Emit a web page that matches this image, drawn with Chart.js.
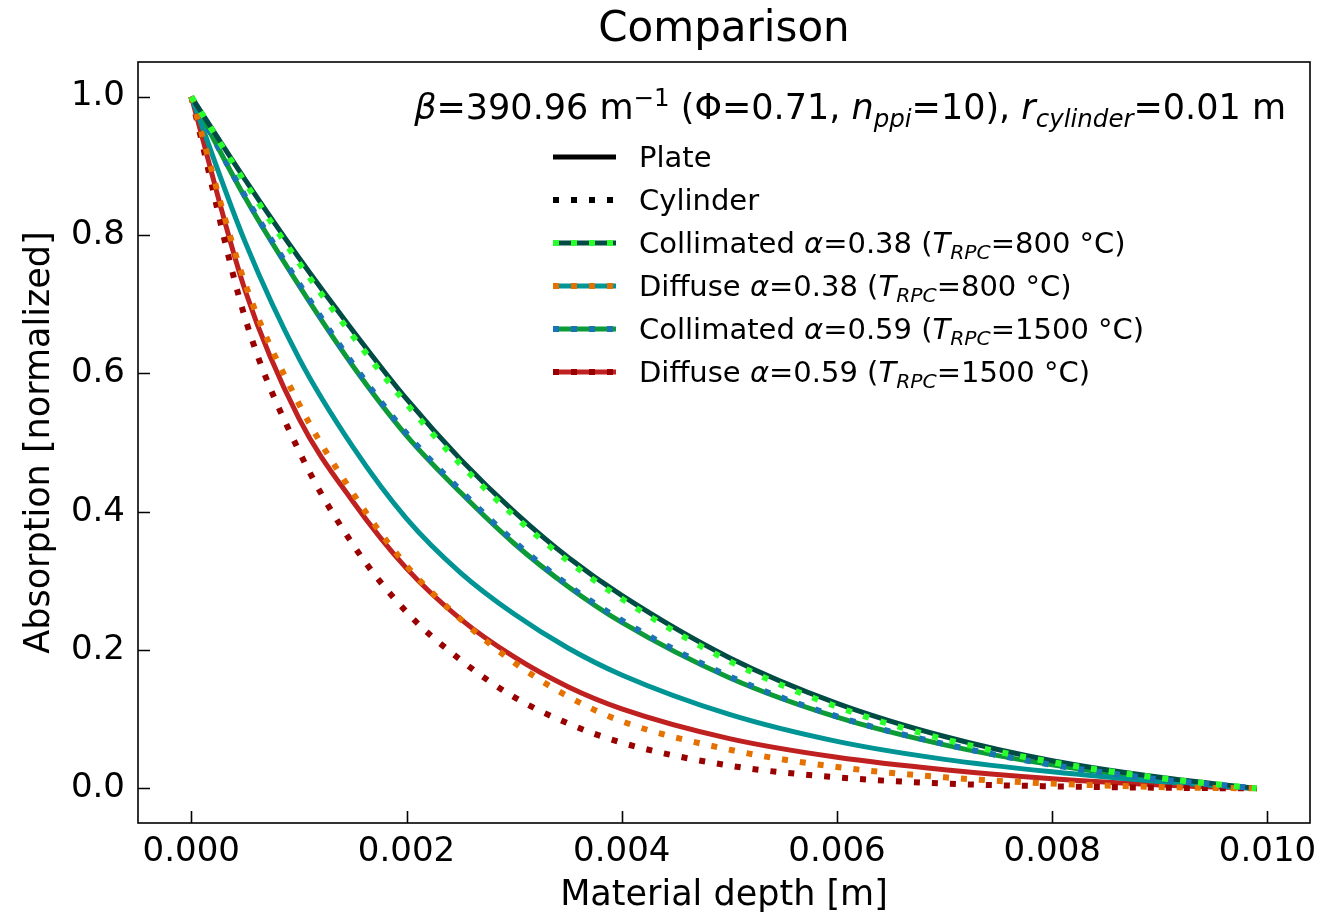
<!DOCTYPE html>
<html>
<head>
<meta charset="utf-8">
<title>Comparison</title>
<script src="https://cdn.jsdelivr.net/npm/chart.js@4.4.1/dist/chart.umd.min.js"></script>
<style>
  html, body { margin: 0; padding: 0; background: #fff; }
  #wrap { width: 1342px; height: 918px; }
</style>
</head>
<body>
<div id="wrap"><canvas id="chart" width="1342" height="918"></canvas></div>
<script>
// material depth [m], shared by every curve
const depth = [0, 0.0005, 0.001, 0.0015, 0.002, 0.0025, 0.003, 0.0035, 0.004, 0.005, 0.006, 0.007, 0.008, 0.009, 0.0099];

// normalized absorption
const plateColl038 = [1.0, 0.880, 0.767, 0.662, 0.563, 0.476, 0.400, 0.334, 0.279, 0.189, 0.123, 0.075, 0.040, 0.016, 0];
const cylColl038   = [1.0, 0.876, 0.760, 0.654, 0.556, 0.469, 0.394, 0.329, 0.274, 0.184, 0.118, 0.071, 0.038, 0.015, 0];
const plateDiff038 = [1.0, 0.790, 0.622, 0.494, 0.390, 0.312, 0.252, 0.203, 0.164, 0.107, 0.068, 0.042, 0.024, 0.010, 0];
const cylDiff038   = [1.0, 0.730, 0.556, 0.427, 0.322, 0.245, 0.182, 0.133, 0.097, 0.056, 0.031, 0.016, 0.007, 0.002, 0];
const plateColl059 = [1.0, 0.854, 0.727, 0.611, 0.510, 0.428, 0.354, 0.292, 0.240, 0.160, 0.103, 0.063, 0.034, 0.0135, 0];
const cylColl059   = [1.0, 0.856, 0.730, 0.614, 0.513, 0.431, 0.357, 0.294, 0.243, 0.162, 0.104, 0.064, 0.034, 0.013, 0];
const plateDiff059 = [1.0, 0.720, 0.535, 0.415, 0.318, 0.245, 0.190, 0.147, 0.115, 0.072, 0.045, 0.027, 0.014, 0.005, 0];
const cylDiff059   = [1.0, 0.680, 0.488, 0.353, 0.255, 0.186, 0.132, 0.094, 0.066, 0.033, 0.016, 0.007, 0.003, 0.001, 0];

const xTicks = [0, 0.002, 0.004, 0.006, 0.008, 0.010];
const yTicks = [0, 0.2, 0.4, 0.6, 0.8, 1.0];

const FONT = "'DejaVu Sans', sans-serif";
const DOT = [6, 12];

function series(values) {
    return values.map((v, i) => ({ x: depth[i], y: v }));
}

function plate(label, values, color) {
    return {
        label: label, data: series(values), borderColor: color, borderWidth: 5,
        pointRadius: 0, cubicInterpolationMode: 'monotone', order: 2
    };
}

function cylinder(label, values, color) {
    return {
        label: label, data: series(values), borderColor: color, borderWidth: 6,
        borderDash: DOT, borderCapStyle: 'butt',
        pointRadius: 0, cubicInterpolationMode: 'monotone', order: 1
    };
}

// text made of runs: plain, italic, sub- and superscript
function drawRuns(ctx, runs, x, y, size, align) {
    const fontOf = r => {
        const s = (r.sub || r.sup) ? size * 0.7 : size;
        return (r.it ? 'italic ' : '') + s + 'px ' + FONT;
    };
    let total = 0;
    runs.forEach(r => { ctx.font = fontOf(r); total += ctx.measureText(r.t).width; });
    let cx = align === 'right' ? x - total : (align === 'center' ? x - total / 2 : x);
    ctx.textBaseline = 'alphabetic';
    ctx.textAlign = 'left';
    runs.forEach(r => {
        ctx.font = fontOf(r);
        let dy = 0;
        if (r.sub) dy = size * 0.22;
        if (r.sup) dy = -size * 0.38;
        ctx.fillText(r.t, cx, y + dy);
        cx += ctx.measureText(r.t).width;
    });
}

const legendRows = [
    { solid: '#000000', dots: null, runs: [{ t: 'Plate' }] },
    { solid: null, dots: '#000000', runs: [{ t: 'Cylinder' }] },
    { solid: '#004c45', dots: '#2bff2b', runs: [{ t: 'Collimated ' }, { t: 'α', it: 1 }, { t: '=0.38 (' }, { t: 'T', it: 1 }, { t: 'RPC', it: 1, sub: 1 }, { t: '=800 °C)' }] },
    { solid: '#009494', dots: '#e57200', runs: [{ t: 'Diffuse ' }, { t: 'α', it: 1 }, { t: '=0.38 (' }, { t: 'T', it: 1 }, { t: 'RPC', it: 1, sub: 1 }, { t: '=800 °C)' }] },
    { solid: '#0d9a38', dots: '#1a73b5', runs: [{ t: 'Collimated ' }, { t: 'α', it: 1 }, { t: '=0.59 (' }, { t: 'T', it: 1 }, { t: 'RPC', it: 1, sub: 1 }, { t: '=1500 °C)' }] },
    { solid: '#bf2020', dots: '#990000', runs: [{ t: 'Diffuse ' }, { t: 'α', it: 1 }, { t: '=0.59 (' }, { t: 'T', it: 1 }, { t: 'RPC', it: 1, sub: 1 }, { t: '=1500 °C)' }] }
];

const noteRuns = [
    { t: 'β', it: 1 }, { t: '=390.96 m' }, { t: '−1', sup: 1 }, { t: ' (Φ=0.71, ' },
    { t: 'n', it: 1 }, { t: 'ppi', it: 1, sub: 1 }, { t: '=10), ' },
    { t: 'r', it: 1 }, { t: 'cylinder', it: 1, sub: 1 }, { t: '=0.01 m' }
];

const framePlugin = {
    id: 'frame',
    afterDraw(chart) {
        const ctx = chart.ctx;
        const a = chart.chartArea;
        const xs = chart.scales.x, ys = chart.scales.y;
        ctx.save();
        ctx.strokeStyle = '#000';
        ctx.lineWidth = 1.6;
        // inward ticks
        ctx.beginPath();
        xTicks.forEach(v => {
            const px = Math.round(xs.getPixelForValue(v)) + 0.5;
            ctx.moveTo(px, a.bottom); ctx.lineTo(px, a.bottom - 12);
        });
        yTicks.forEach(v => {
            const py = Math.round(ys.getPixelForValue(v)) + 0.5;
            ctx.moveTo(a.left, py); ctx.lineTo(a.left + 12, py);
        });
        ctx.stroke();
        ctx.strokeRect(a.left, a.top, a.right - a.left, a.bottom - a.top);

        // title, centred over the axes
        ctx.fillStyle = '#000';
        drawRuns(ctx, [{ t: 'Comparison' }], (a.left + a.right) / 2, 41, 42, 'center');

        // annotation
        drawRuns(ctx, noteRuns, 1286, 119, 35, 'right');

        // legend
        legendRows.forEach((row, i) => {
            const y = 157 + i * 43;
            const x0 = 553, x1 = 616;
            if (row.solid) {
                ctx.setLineDash([]);
                ctx.lineCap = 'butt';
                ctx.strokeStyle = row.solid;
                ctx.lineWidth = 5;
                ctx.beginPath(); ctx.moveTo(x0, y); ctx.lineTo(x1, y); ctx.stroke();
            }
            if (row.dots) {
                ctx.setLineDash(DOT);
                ctx.lineCap = 'butt';
                ctx.strokeStyle = row.dots;
                ctx.lineWidth = 6;
                ctx.beginPath(); ctx.moveTo(x0, y); ctx.lineTo(x1, y); ctx.stroke();
            }
            ctx.setLineDash([]);
            ctx.fillStyle = '#000';
            drawRuns(ctx, row.runs, 639, y + 10, 29, 'left');
        });
        ctx.restore();
    }
};

new Chart(document.getElementById('chart'), {
    type: 'line',
    data: {
        datasets: [
            plate('Plate coll 0.38', plateColl038, '#004c45'),
            cylinder('Cyl coll 0.38', cylColl038, '#2bff2b'),
            plate('Plate diff 0.38', plateDiff038, '#009494'),
            cylinder('Cyl diff 0.38', cylDiff038, '#e57200'),
            plate('Plate coll 0.59', plateColl059, '#0d9a38'),
            cylinder('Cyl coll 0.59', cylColl059, '#1a73b5'),
            plate('Plate diff 0.59', plateDiff059, '#bf2020'),
            cylinder('Cyl diff 0.59', cylDiff059, '#990000')
        ]
    },
    options: {
        responsive: false,
        animation: false,
        devicePixelRatio: 1,
        layout: { padding: { left: 0, right: 32, top: 62, bottom: 0 } },
        plugins: {
            legend: { display: false },
            tooltip: { enabled: false },
            title: { display: false }
        },
        scales: {
            x: {
                type: 'linear', min: -0.000495, max: 0.010395,
                afterBuildTicks: s => { s.ticks = xTicks.map(v => ({ value: v })); },
                afterFit: s => { s.height = 95; },
                ticks: {
                    callback: v => v.toFixed(3), color: '#000', padding: 9,
                    font: { family: FONT, size: 34 }, maxRotation: 0, autoSkip: false
                },
                grid: { display: false, drawTicks: false },
                border: { display: false },
                title: {
                    display: true, text: 'Material depth [m]', color: '#000',
                    font: { family: FONT, size: 35 }, padding: { top: 0, bottom: 1 }
                }
            },
            y: {
                type: 'linear', min: -0.05, max: 1.05,
                afterBuildTicks: s => { s.ticks = yTicks.map(v => ({ value: v })); },
                afterFit: s => { s.width = 138; },
                ticks: {
                    callback: v => v.toFixed(1), color: '#000', padding: 13,
                    font: { family: FONT, size: 34 }, autoSkip: false
                },
                grid: { display: false, drawTicks: false },
                border: { display: false },
                title: {
                    display: true, text: 'Absorption [normalized]', color: '#000',
                    font: { family: FONT, size: 35 }, padding: { top: 19, bottom: 0 }
                }
            }
        }
    },
    plugins: [framePlugin]
});
</script>
</body>
</html>
